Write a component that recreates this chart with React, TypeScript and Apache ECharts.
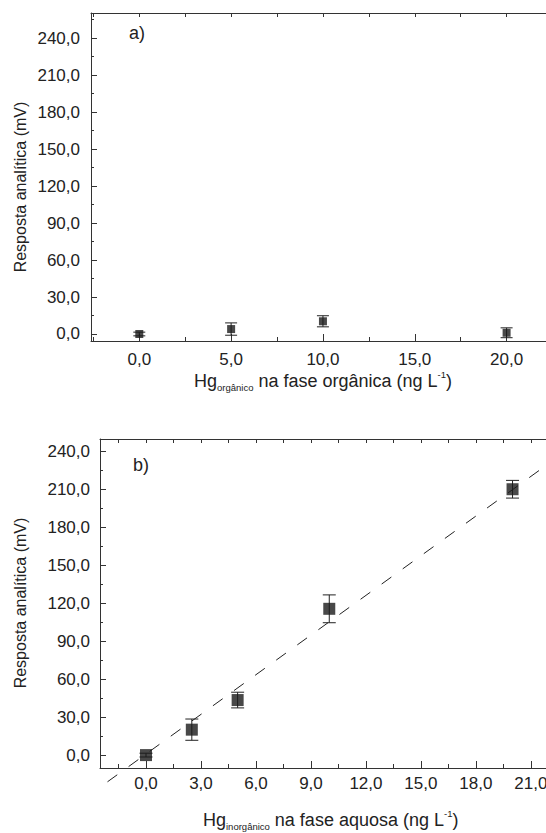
import React, { useEffect, useRef } from "react";
import * as echarts from "echarts";

// ---- data ----
const concOrganic = [0, 5, 10, 20];
const respOrganic = [0.0, 4.0, 10.3, 1.0];
const errOrganic = [1.5, 5.0, 4.5, 4.0];

const concInorganic = [0, 2.5, 5, 10, 20];
const respInorganic = [0.2, 20.3, 43.7, 115.8, 210.3];
const errInorganic = [1.5, 8.4, 6.2, 11.0, 7.0];

const fitX = [-2.1, 22.5];
const fitY = [-20.9, 236.1];

const yTitle = "Resposta analítica (mV)";
const panelA = "a)";
const panelB = "b)";
const xTitleA = { main: "Hg", sub: "orgânico", rest: " na fase orgânica (ng L", sup: "-1", end: ")" };
const xTitleB = { main: "Hg", sub: "inorgânico", rest: " na fase aquosa (ng L", sup: "-1", end: ")" };

const FONT = "'Liberation Sans', Arial, sans-serif";
const TXT = "#222";
const AX = "#333";

const fmt = (step: number) => (v: number) => {
  const r = v / step;
  if (Math.abs(r - Math.round(r)) > 1e-6) return "";
  return v.toFixed(1).replace(".", ",");
};

function measure(text: string, size: number): number {
  const c = document.createElement("canvas").getContext("2d")!;
  c.font = `${size}px 'Liberation Sans'`;
  return c.measureText(text).width;
}

function titleGraphic(t: typeof xTitleA, x0: number, cy: number) {
  const big = 18;
  const small = 9.5;
  const parts: any[] = [];
  let x = x0;
  const add = (text: string, size: number, dy: number) => {
    parts.push({
      type: "text",
      x,
      y: cy + dy,
      style: { text, font: `${size}px ${FONT}`, fill: TXT, textAlign: "left", textVerticalAlign: "middle" },
    });
    x += measure(text, size);
  };
  add(t.main, big, 0);
  add(t.sub, small, 6);
  add(t.rest, big, 0);
  add(t.sup, small, -7);
  add(t.end, big, 0);
  return parts;
}

function errorSeries(idx: number, xs: number[], ys: number[], es: number[], cap: number) {
  return {
    type: "custom",
    xAxisIndex: idx * 2,
    yAxisIndex: idx,
    z: 3,
    data: xs.map((x, i) => [x, ys[i] - es[i], ys[i] + es[i]]),
    encode: { x: 0, y: [1, 2] },
    renderItem: (_p: any, api: any) => {
      const x = api.value(0);
      const lo = api.coord([x, api.value(1)]);
      const hi = api.coord([x, api.value(2)]);
      const hw = cap / 2;
      const style = { stroke: "#222", lineWidth: 1 };
      return {
        type: "group",
        children: [
          { type: "line", shape: { x1: lo[0], y1: lo[1], x2: hi[0], y2: hi[1] }, style },
          { type: "line", shape: { x1: lo[0] - hw, y1: lo[1], x2: lo[0] + hw, y2: lo[1] }, style },
          { type: "line", shape: { x1: hi[0] - hw, y1: hi[1], x2: hi[0] + hw, y2: hi[1] }, style },
        ],
      };
    },
  };
}

function xAxes(grid: number, min: number, max: number, split: number, step: number, margin: number) {
  return [
    {
      type: "value",
      gridIndex: grid,
      position: "bottom",
      min,
      max,
      splitNumber: split,
      axisLine: { show: true, onZero: false, lineStyle: { color: AX, width: 1 } },
      axisTick: { show: true, inside: true, length: 7, lineStyle: { color: AX } },
      minorTick: { show: true, splitNumber: 2, length: 4, lineStyle: { color: AX } },
      axisLabel: {
        formatter: fmt(step),
        fontSize: 17,
        fontFamily: FONT,
        color: TXT,
        margin,
        showMinLabel: false,
        showMaxLabel: false,
      },
      splitLine: { show: false },
    },
    {
      type: "value",
      gridIndex: grid,
      position: "top",
      min,
      max,
      splitNumber: split,
      axisLine: { show: true, onZero: false, lineStyle: { color: AX, width: 1 } },
      axisTick: { show: true, inside: true, length: 4, lineStyle: { color: AX } },
      minorTick: { show: true, splitNumber: 2, length: 4, lineStyle: { color: AX } },
      axisLabel: { show: false },
      splitLine: { show: false },
    },
  ];
}

function yAxis(grid: number, min: number, max: number, margin: number) {
  return {
    type: "value",
    gridIndex: grid,
    position: "left",
    min,
    max,
    splitNumber: 9,
    axisLine: { show: true, onZero: false, lineStyle: { color: AX, width: 1 } },
    axisTick: { show: true, inside: true, length: 6, lineStyle: { color: AX } },
    minorTick: { show: true, splitNumber: 2, length: 3, lineStyle: { color: AX } },
    axisLabel: {
      formatter: fmt(30),
      fontSize: 17,
      fontFamily: FONT,
      color: TXT,
      margin,
      showMinLabel: false,
      showMaxLabel: false,
    },
    splitLine: { show: false },
  };
}

export default function App() {
  const ref = useRef<HTMLDivElement>(null);
  useEffect(() => {
    if (!ref.current) return;
    const chart = echarts.init(ref.current, null, { renderer: "svg" });
    chart.setOption({
      animation: false,
      backgroundColor: "#fff",
      grid: [
        { left: 91, top: 13, width: 456, height: 328 },
        { left: 100, top: 439, width: 447, height: 329 },
      ],
      xAxis: [...xAxes(0, -2.63, 22.2, 5, 5, 10), ...xAxes(1, -2.51, 21.88, 8, 3, 7)],
      yAxis: [yAxis(0, -5.68, 260.3, 11), yAxis(1, -10, 250, 10)],
      series: [
        errorSeries(0, concOrganic, respOrganic, errOrganic, 12),
        {
          type: "scatter",
          xAxisIndex: 0,
          yAxisIndex: 0,
          symbol: "rect",
          symbolSize: 8,
          itemStyle: { color: "#1a1a1a" },
          z: 4,
          data: concOrganic.map((x, i) => [x, respOrganic[i]]),
        },
        {
          type: "line",
          xAxisIndex: 2,
          yAxisIndex: 1,
          clip: false,
          showSymbol: false,
          symbol: "none",
          lineStyle: { color: "#222", width: 1, type: [12, 14] },
          z: 2,
          data: fitX.map((x, i) => [x, fitY[i]]),
        },
        errorSeries(1, concInorganic, respInorganic, errInorganic, 13),
        {
          type: "scatter",
          xAxisIndex: 2,
          yAxisIndex: 1,
          symbol: "rect",
          symbolSize: 12,
          itemStyle: { color: "#1a1a1a" },
          z: 4,
          data: concInorganic.map((x, i) => [x, respInorganic[i]]),
        },
      ],
      graphic: [
        {
          type: "text",
          x: 20,
          y: 187,
          rotation: Math.PI / 2,
          style: { text: yTitle, font: `16px ${FONT}`, fill: TXT, textAlign: "center", textVerticalAlign: "middle" },
        },
        {
          type: "text",
          x: 20,
          y: 603,
          rotation: Math.PI / 2,
          style: { text: yTitle, font: `16px ${FONT}`, fill: TXT, textAlign: "center", textVerticalAlign: "middle" },
        },
        {
          type: "text",
          x: 129,
          y: 33,
          style: { text: panelA, font: `18px ${FONT}`, fill: TXT, textAlign: "left", textVerticalAlign: "middle" },
        },
        {
          type: "text",
          x: 133,
          y: 465,
          style: { text: panelB, font: `18px ${FONT}`, fill: TXT, textAlign: "left", textVerticalAlign: "middle" },
        },
        ...titleGraphic(xTitleA, 194, 381),
        ...titleGraphic(xTitleB, 203, 820),
      ],
    });
    return () => chart.dispose();
  }, []);
  return (
    <div style={{ position: "fixed", left: 0, top: 0, width: 546, height: 833, overflow: "hidden", background: "#fff" }}>
      <div ref={ref} style={{ width: 570, height: 833 }} />
    </div>
  );
}
